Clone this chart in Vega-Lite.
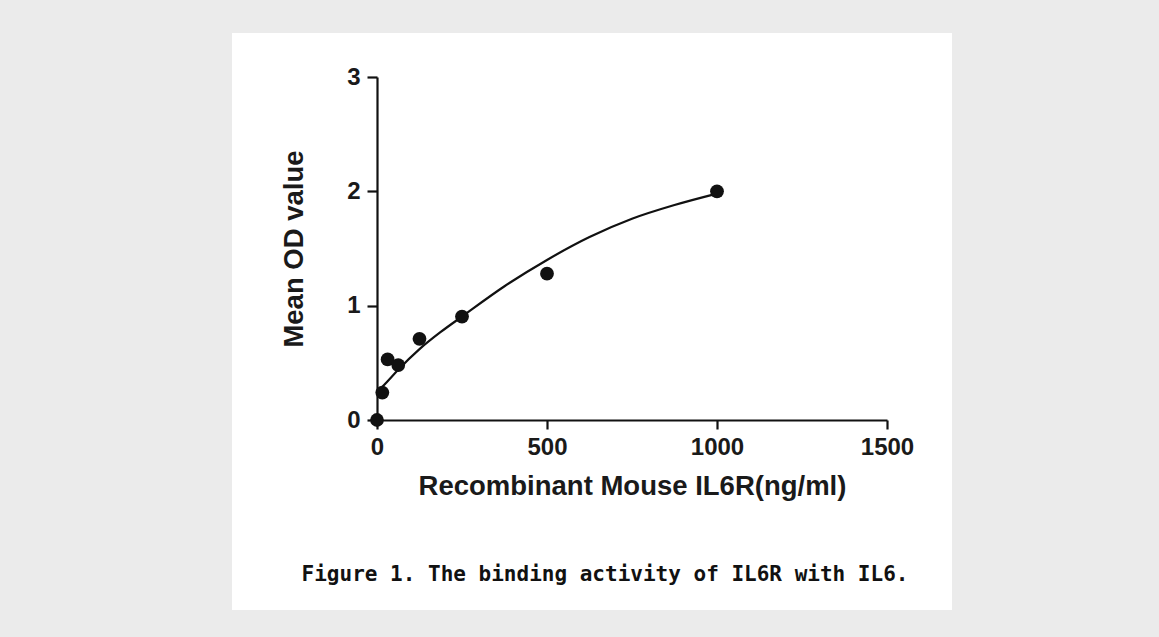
{
  "$schema": "https://vega.github.io/schema/vega-lite/v6.json",
  "autosize": {"type": "none"},
  "width": 720,
  "height": 577,
  "padding": {"left": 232, "top": 33, "right": 207, "bottom": 27},
  "background": "#ebebeb",
  "config": {
    "view": {"fill": "white", "stroke": null},
    "font": "Liberation Sans"
  },
  "title": {
    "text": "Figure 1.  The binding activity of IL6R with IL6.",
    "orient": "bottom",
    "anchor": "middle",
    "offset": -46,
    "dx": 13,
    "font": "DejaVu Sans Mono",
    "fontSize": 21,
    "fontWeight": "bold",
    "color": "#111111"
  },
  "datasets": {
    "points": [
      {"conc": 0, "od": 0},
      {"conc": 15.625, "od": 0.24},
      {"conc": 31.25, "od": 0.53},
      {"conc": 62.5, "od": 0.48},
      {"conc": 125, "od": 0.71},
      {"conc": 250, "od": 0.905},
      {"conc": 500, "od": 1.28},
      {"conc": 1000, "od": 2.0}
    ],
    "curve": [
      {"conc": 15.6, "od": 0.29},
      {"conc": 31.25, "od": 0.34},
      {"conc": 62.5, "od": 0.44},
      {"conc": 125, "od": 0.62},
      {"conc": 187.5, "od": 0.77},
      {"conc": 250, "od": 0.905},
      {"conc": 375, "od": 1.17},
      {"conc": 500, "od": 1.4},
      {"conc": 625, "od": 1.6},
      {"conc": 750, "od": 1.76},
      {"conc": 875, "od": 1.88},
      {"conc": 1000, "od": 1.98}
    ]
  },
  "layer": [
    {
      "data": {"name": "curve"},
      "mark": {"type": "line", "color": "#111111", "strokeWidth": 2.2, "interpolate": "monotone"},
      "encoding": {
        "x": {
          "field": "conc", "type": "quantitative",
          "scale": {"domain": [0, 1500], "range": [145, 655], "nice": false, "zero": false},
          "axis": {
            "orient": "bottom",
            "offset": -190,
            "values": [0, 500, 1000, 1500],
            "format": "d",
            "labelFlush": false,
            "labelOverlap": false,
            "title": "Recombinant Mouse IL6R(ng/ml)",
            "grid": false,
            "domainColor": "#111111",
            "domainWidth": 2.2,
            "tickColor": "#111111",
            "tickWidth": 2.2,
            "tickSize": 9,
            "labelFont": "Liberation Sans",
            "labelFontSize": 24,
            "labelFontWeight": "bold",
            "labelColor": "#1a1a1a",
            "labelPadding": 6,
            "titleFont": "Liberation Sans",
            "titleFontSize": 27.5,
            "titleFontWeight": "bold",
            "titleColor": "#1a1a1a",
            "titlePadding": 13
          }
        },
        "y": {
          "field": "od", "type": "quantitative",
          "scale": {"domain": [0, 3], "range": [387, 44], "nice": false, "zero": false},
          "axis": {
            "orient": "left",
            "offset": -145,
            "values": [0, 1, 2, 3],
            "format": "d",
            "labelFlush": false,
            "labelOverlap": false,
            "title": "Mean OD value",
            "grid": false,
            "domainColor": "#111111",
            "domainWidth": 2.2,
            "tickColor": "#111111",
            "tickWidth": 2.2,
            "tickSize": 10,
            "labelFont": "Liberation Sans",
            "labelFontSize": 24,
            "labelFontWeight": "bold",
            "labelColor": "#1a1a1a",
            "labelPadding": 7,
            "titleFont": "Liberation Sans",
            "titleFontSize": 27.5,
            "titleFontWeight": "bold",
            "titleColor": "#1a1a1a",
            "titlePadding": 38
          }
        }
      }
    },
    {
      "data": {"name": "points"},
      "mark": {"type": "point", "filled": true, "shape": "circle", "size": 190, "color": "#111111", "opacity": 1},
      "encoding": {
        "x": {"field": "conc", "type": "quantitative"},
        "y": {"field": "od", "type": "quantitative"}
      }
    }
  ]
}
